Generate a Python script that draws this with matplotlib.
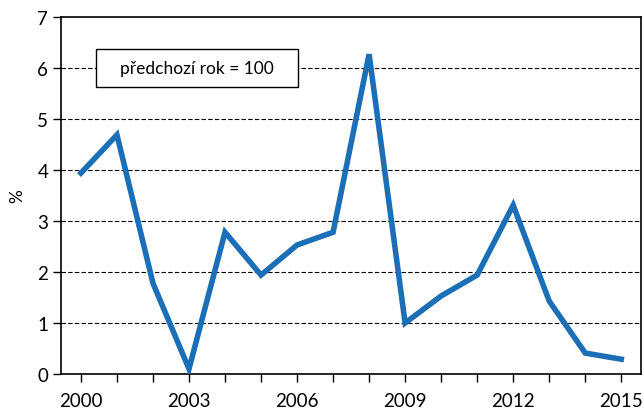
import matplotlib
matplotlib.use("Agg")
import matplotlib.pyplot as plt
from matplotlib.patches import Rectangle

years = list(range(2000, 2016))
values = [3.94, 4.69, 1.78, 0.1, 2.78, 1.94, 2.53, 2.78, 6.27, 1.0, 1.53, 1.94, 3.31, 1.43, 0.41, 0.29]
tick_labels = ["2000", "", "", "2003", "", "", "2006", "", "", "2009", "", "", "2012", "", "", "2015"]
note = "předchozí rok = 100"

plt.rcParams['font.family'] = ['Lato', 'DejaVu Sans']

fig = plt.figure(figsize=(6.43, 4.14), dpi=100)
ax = fig.add_axes([0.0956, 0.0942, 0.9014, 0.8623])

for yv in range(1, 7):
    ax.axhline(yv, color="black", linestyle=(0, (4, 2)), linewidth=0.8, zorder=1)

ax.plot(years, values, color="#1a6fb6", linewidth=4.0, solid_joinstyle="miter", zorder=3)

ax.set_xlim(1999.46, 2015.55)
ax.set_ylim(0, 7)
ax.set_xticks(years)
ax.set_xticklabels(tick_labels)
ax.set_yticks(range(0, 8))
ax.tick_params(axis="both", direction="out", length=6, width=1, labelsize=13.5, colors="black")
ax.tick_params(axis="x", pad=7)
for s in ax.spines.values():
    s.set_linewidth(1.2)
ax.set_ylabel("%", fontsize=12.5, labelpad=9)

rect = Rectangle((2000.42, 5.63), 5.61, 0.74, facecolor="white", edgecolor="black", linewidth=1.0, zorder=4)
ax.add_patch(rect)
ax.text(2003.22, 6.0, note, ha="center", va="center", fontsize=12.5, zorder=5)

fig.savefig("out.png", dpi=100)
